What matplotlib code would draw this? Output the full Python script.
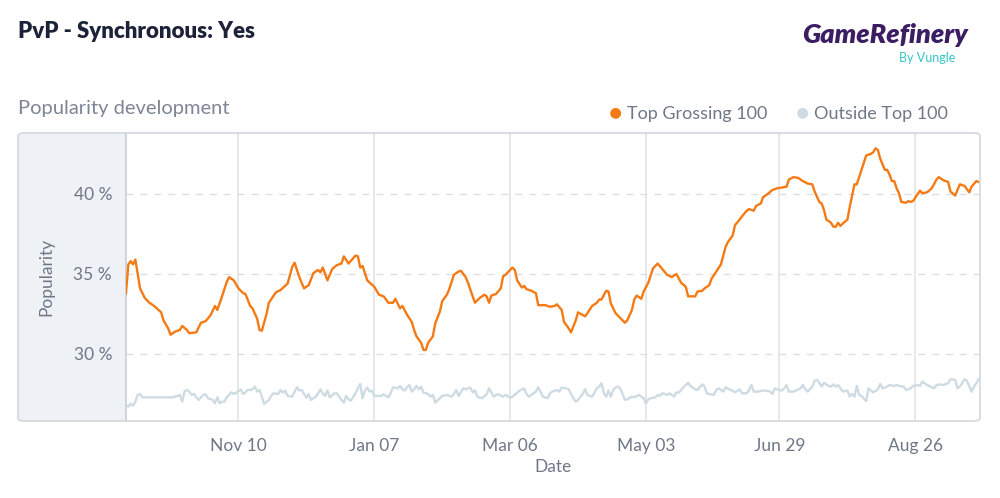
import numpy as np
import pandas as pd
import matplotlib
matplotlib.use("Agg")
import matplotlib.pyplot as plt
import matplotlib.dates as mdates
from matplotlib.patches import FancyBboxPatch, Rectangle

plt.rcParams['font.family'] = ['Lato', 'DejaVu Sans']

start = pd.Timestamp("2018-09-23")

# Top Grossing 100 (days since start, popularity %)
top_days = [0, 1, 2, 3, 4, 5, 6, 8, 10, 12, 15, 16, 18, 19, 21, 23, 24, 26, 27, 30,
            32, 34, 36, 38, 39, 41, 43, 44, 46, 48, 50, 51, 53, 54, 56, 57, 58, 60, 61, 64,
            66, 69, 71, 72, 74, 76, 78, 80, 82, 83, 84, 86, 88, 90, 92, 93, 95, 98, 99, 100,
            101, 103, 106, 108, 110, 112, 114, 115, 117, 118, 120, 122, 123, 124, 126, 127, 128, 129, 131, 132,
            134, 135, 137, 138, 140, 142, 143, 145, 146, 148, 149, 151, 153, 154, 155, 156, 158, 160, 161, 162,
            165, 166, 167, 169, 170, 171, 173, 175, 176, 179, 181, 183, 184, 186, 187, 189, 190, 192, 193, 196,
            197, 199, 201, 202, 203, 205, 206, 207, 209, 211, 213, 214, 216, 217, 218, 220, 221, 223, 225, 227,
            229, 231, 233, 235, 237, 239, 240, 243, 244, 246, 247, 249, 250, 252, 254, 256, 257, 259, 260, 262,
            263, 265, 266, 268, 269, 271, 272, 274, 276, 278, 280, 282, 283, 285, 287, 289, 291, 293, 294, 296,
            297, 298, 299, 301, 302, 303, 304, 305, 306, 308, 309, 311, 312, 314, 316, 318, 319, 320, 321, 322,
            324, 325, 326, 327, 328, 329, 330, 331, 333, 334, 335, 336, 338, 339, 340, 342, 344, 346, 347, 349,
            351, 352, 354, 355, 356, 358, 360, 361, 363, 364]
top_vals = [33.8, 35.6, 35.8, 35.6, 35.9, 35.0, 34.1, 33.5, 33.2, 33.0, 32.6, 32.1, 31.6, 31.2, 31.4, 31.5, 31.75, 31.5, 31.3, 31.35,
            31.95, 32.05, 32.4, 33.0, 32.75, 33.6, 34.5, 34.8, 34.6, 34.1, 33.8, 33.75, 33.0, 32.85, 32.2, 31.5, 31.45, 32.5, 33.2, 33.85,
            34.0, 34.4, 35.45, 35.7, 34.8, 34.1, 34.3, 35.05, 35.25, 35.1, 35.4, 34.6, 35.3, 35.55, 35.65, 36.1, 35.65, 36.15, 36.1, 35.4,
            35.5, 34.6, 34.2, 33.7, 33.6, 33.2, 33.2, 33.45, 32.85, 33.0, 32.45, 32.0, 31.5, 31.1, 30.7, 30.25, 30.25, 30.7, 31.1, 31.9,
            32.65, 33.3, 33.7, 34.05, 34.95, 35.15, 35.2, 34.8, 34.45, 33.6, 33.2, 33.5, 33.7, 33.6, 33.2, 33.65, 33.75, 34.1, 34.85, 34.95,
            35.4, 35.25, 34.6, 34.15, 34.25, 34.05, 33.95, 33.8, 33.05, 33.05, 32.95, 33.0, 33.1, 32.75, 32.0, 31.6, 31.35, 32.1, 32.6, 32.35,
            32.55, 33.0, 33.2, 33.4, 33.4, 33.95, 33.9, 33.15, 32.55, 32.25, 31.95, 32.1, 32.75, 33.4, 33.65, 33.45, 33.9, 34.45, 35.35, 35.65,
            35.3, 34.95, 34.8, 35.0, 34.45, 34.2, 33.6, 33.6, 33.9, 33.95, 34.1, 34.3, 34.7, 35.15, 35.6, 36.7, 37.0, 37.4, 38.05, 38.4,
            38.6, 38.95, 39.05, 38.95, 39.25, 39.4, 39.8, 40.0, 40.25, 40.35, 40.4, 40.45, 40.9, 41.05, 41.0, 40.8, 40.65, 40.6, 40.15, 39.5,
            39.4, 39.0, 38.4, 38.2, 37.95, 37.95, 38.2, 38.0, 38.15, 38.4, 39.2, 40.6, 40.6, 41.5, 42.4, 42.5, 42.6, 42.85, 42.75, 42.2,
            41.5, 41.5, 41.2, 40.8, 40.8, 40.35, 40.05, 39.5, 39.45, 39.55, 39.5, 39.55, 40.0, 40.2, 40.05, 40.1, 40.35, 40.9, 41.05, 40.85,
            40.75, 40.15, 39.9, 40.25, 40.6, 40.5, 40.1, 40.45, 40.8, 40.75]

# Outside Top 100
out_days = [0, 1, 2, 3, 4, 5, 6, 7, 12, 16, 20, 22, 23, 24, 25, 26, 27, 28, 29, 30,
            31, 33, 34, 35, 37, 38, 39, 40, 41, 42, 43, 45, 46, 47, 49, 50, 51, 52, 53, 54,
            55, 56, 57, 58, 59, 61, 62, 63, 65, 66, 67, 68, 69, 71, 72, 73, 74, 75, 76, 77,
            78, 79, 81, 82, 83, 84, 85, 86, 87, 89, 90, 91, 92, 93, 94, 95, 96, 98, 99, 100,
            101, 102, 103, 104, 105, 106, 108, 109, 110, 112, 113, 114, 116, 117, 118, 119, 120, 121, 122, 123,
            124, 125, 126, 127, 129, 130, 131, 132, 134, 135, 137, 139, 140, 141, 142, 144, 145, 147, 148, 149,
            150, 152, 154, 155, 157, 158, 159, 161, 162, 164, 165, 167, 168, 170, 171, 172, 174, 175, 176, 178,
            180, 181, 182, 184, 185, 186, 188, 189, 191, 192, 193, 195, 196, 197, 199, 200, 201, 202, 203, 204,
            205, 206, 207, 208, 209, 210, 211, 212, 213, 214, 216, 217, 219, 220, 221, 222, 223, 224, 226, 227,
            228, 229, 231, 232, 234, 235, 236, 238, 239, 240, 241, 243, 244, 245, 246, 247, 248, 249, 251, 252,
            253, 255, 256, 258, 259, 260, 262, 263, 265, 266, 267, 268, 270, 272, 273, 275, 276, 277, 278, 280,
            281, 282, 283, 285, 286, 288, 289, 290, 291, 293, 294, 295, 296, 297, 298, 300, 301, 302, 303, 304,
            306, 308, 309, 310, 311, 312, 313, 314, 316, 317, 318, 319, 321, 322, 323, 325, 326, 328, 329, 330,
            332, 333, 335, 336, 338, 339, 340, 342, 343, 345, 346, 348, 349, 351, 352, 354, 355, 356, 358, 359,
            361, 362, 363, 364]
out_vals = [26.81, 26.71, 26.88, 26.77, 27.02, 27.44, 27.5, 27.29, 27.29, 27.29, 27.29, 27.38, 27.44, 27.02, 27.65, 27.75, 27.65, 27.44, 27.5, 27.29,
            27.13, 27.44, 27.48, 27.23, 27.13, 26.92, 27.29, 26.92, 27.02, 27.02, 27.29, 27.6, 27.5, 27.58, 27.79, 27.5, 27.6, 27.75, 27.75, 27.79,
            27.96, 27.65, 27.75, 27.33, 26.88, 27.13, 27.38, 27.54, 27.5, 27.75, 27.58, 27.71, 27.38, 27.33, 27.65, 27.92, 27.71, 27.75, 27.5, 27.27,
            27.5, 27.13, 27.33, 27.54, 27.79, 27.54, 27.38, 27.71, 27.29, 27.54, 27.54, 27.33, 27.13, 26.96, 27.38, 27.17, 27.08, 27.54, 27.85, 28.13,
            27.23, 27.71, 27.9, 27.65, 27.71, 27.38, 27.38, 27.38, 27.48, 27.29, 27.54, 27.92, 27.85, 28.0, 27.79, 27.71, 27.92, 28.06, 27.65, 27.79,
            28.0, 27.79, 27.96, 27.58, 27.5, 27.33, 27.44, 26.96, 27.23, 27.38, 27.44, 27.33, 27.5, 27.75, 27.38, 27.85, 27.79, 27.9, 27.6, 27.71,
            27.33, 27.23, 27.48, 27.85, 27.33, 27.44, 27.48, 27.33, 27.44, 27.27, 27.33, 27.58, 27.71, 27.85, 27.5, 27.33, 27.54, 27.65, 27.92, 27.33,
            27.23, 27.54, 27.65, 27.75, 27.65, 27.9, 27.85, 27.79, 27.23, 27.02, 27.13, 27.5, 27.79, 27.44, 27.33, 27.58, 27.85, 27.96, 28.17, 27.54,
            27.33, 27.71, 27.33, 27.75, 27.9, 27.96, 27.85, 27.5, 27.13, 27.17, 27.33, 27.29, 27.44, 27.33, 27.23, 26.92, 27.17, 27.23, 27.29, 27.44,
            27.38, 27.54, 27.44, 27.54, 27.33, 27.6, 27.58, 27.92, 28.06, 28.2, 28.0, 27.79, 27.75, 27.92, 28.1, 27.96, 27.54, 27.5, 27.44, 27.75,
            27.85, 27.65, 27.92, 27.75, 27.71, 27.6, 27.79, 27.54, 27.54, 27.75, 28.06, 27.65, 27.65, 27.71, 27.71, 27.65, 27.5, 27.85, 27.79, 27.71,
            27.85, 28.06, 27.65, 27.65, 27.71, 27.85, 28.06, 27.79, 27.65, 27.96, 28.33, 28.38, 28.2, 27.96, 28.2, 28.0, 27.96, 28.1, 27.96, 28.06,
            27.65, 27.71, 27.33, 27.5, 27.33, 28.0, 27.44, 27.38, 27.06, 27.85, 27.71, 27.6, 27.79, 28.13, 27.85, 27.96, 28.06, 28.0, 28.06, 28.0,
            27.96, 27.75, 27.85, 28.0, 28.06, 28.0, 28.27, 28.06, 28.0, 27.85, 28.06, 28.1, 28.06, 28.17, 28.42, 28.38, 27.85, 27.96, 28.42, 28.33,
            27.65, 27.96, 28.17, 28.42]

tick_dates = ["2018-11-10", "2019-01-07", "2019-03-06", "2019-05-03", "2019-06-29", "2019-08-26"]
y_ticks = [30, 35, 40]

top_x = start + pd.to_timedelta(top_days, unit="D")
out_x = start + pd.to_timedelta(out_days, unit="D")

text_col = "#6f7787"
fig = plt.figure(figsize=(10, 4.98), dpi=100)

# panel background with grey left band
fig.patches.append(FancyBboxPatch((0.018, 0.1546), 0.962, 0.5784, boxstyle="round,pad=0,rounding_size=0.006",
                                  transform=fig.transFigure, facecolor="#eef1f5", edgecolor="none", zorder=-2))
fig.patches.append(FancyBboxPatch((0.018, 0.1546), 0.962, 0.5784, boxstyle="round,pad=0,rounding_size=0.006",
                                  transform=fig.transFigure, facecolor="none", edgecolor="#d3d7de", lw=1.2, zorder=5))

ax = fig.add_axes([0.126, 0.1546, 0.854, 0.5784])
ax.set_facecolor("white")
ax.plot(out_x, out_vals, color="#cfdbe3", lw=1.7, label="Outside Top 100", zorder=3)
ax.plot(top_x, top_vals, color="#f47a14", lw=1.7, label="Top Grossing 100", zorder=4)

ax.set_xlim(start, start + pd.Timedelta(days=364.6))
ax.set_ylim(25.81, 43.81)
ax.set_yticks(y_ticks)
ax.set_yticklabels([f"{v} %" for v in y_ticks])
ax.set_xticks(pd.to_datetime(tick_dates))
ax.xaxis.set_major_formatter(mdates.DateFormatter("%b %d"))
ax.tick_params(axis="both", length=0, labelcolor=text_col, labelsize=12.5)
ax.tick_params(axis="x", pad=12)
ax.tick_params(axis="y", pad=10)
ax.grid(axis="y", color="#dcdfe4", lw=1, ls=(0, (5, 5)))
ax.grid(axis="x", color="#e2e4e8", lw=1.2, ls="-")
for s in ["top", "right", "bottom"]:
    ax.spines[s].set_visible(False)
ax.spines["left"].set_color("#c8cdd5")
ax.spines["left"].set_linewidth(1.2)

ax.set_xlabel("Date", color=text_col, fontsize=12.5, labelpad=4)
ax.set_ylabel("Popularity", color=text_col, fontsize=12.5, labelpad=14)

fig.text(0.018, 0.936, "PvP - Synchronous: Yes", fontsize=16, fontweight="heavy", color="#1c2338", va="center")
fig.text(0.018, 0.782, "Popularity development", fontsize=14.5, color="#7d8596", va="center")

fig.text(0.968, 0.929, "GameRefinery", fontsize=19.5, fontweight="heavy", style="italic", color="#3b1d63",
         ha="right", va="center")
fig.text(0.955, 0.884, "By Vungle", fontsize=9, color="#33c4c6", ha="right", va="center")

# legend
fig.text(0.6155, 0.772, "\u25cf", fontsize=16, color="#f47a14", ha="center", va="center")
fig.text(0.627, 0.772, "Top Grossing 100", fontsize=13, color=text_col, va="center")
fig.text(0.8025, 0.772, "\u25cf", fontsize=16, color="#cfdbe3", ha="center", va="center")
fig.text(0.814, 0.772, "Outside Top 100", fontsize=13, color=text_col, va="center")

fig.savefig("out.png", dpi=100)
